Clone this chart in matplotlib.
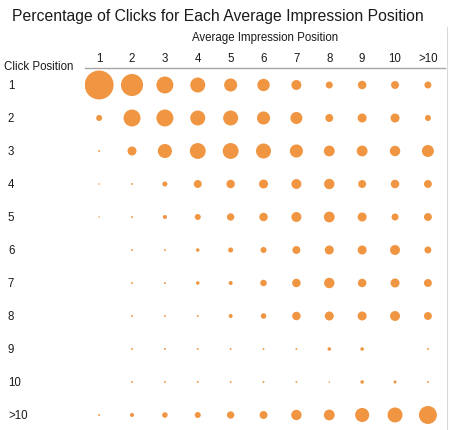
import matplotlib.pyplot as plt
import numpy as np
from matplotlib.lines import Line2D

plt.rcParams["font.family"] = ["Liberation Sans", "DejaVu Sans"]

impression_labels = ["1", "2", "3", "4", "5", "6", "7", "8", "9", "10", ">10"]
click_labels = ["1", "2", "3", "4", "5", "6", "7", "8", "9", "10", ">10"]

# percentage of clicks, rows = click position, cols = average impression position
pct_row1 = [93, 54, 32, 25, 19, 17, 11, 5.4, 8, 7, 5.4]
pct_row2 = [4, 32, 32, 25, 25, 19, 16, 7, 9, 9, 4]
pct_row3 = [0.4, 9, 22, 28, 28, 25, 19, 13, 13, 12, 16]
pct_row4 = [0.25, 0.4, 2.8, 7, 8, 9, 11, 12, 7, 8, 7]
pct_row5 = [0.25, 0.4, 1.8, 4, 6, 8, 11, 13, 9, 5.4, 7]
pct_row6 = [0, 0.4, 0.4, 1.4, 2.8, 4, 7, 9, 9, 11, 5.4]
pct_row7 = [0, 0.4, 0.4, 1.4, 1.8, 4.7, 8, 12, 8, 9, 7]
pct_row8 = [0, 0.4, 0.4, 0.4, 1.8, 3.4, 8, 9, 9, 11, 7]
pct_row9 = [0, 0.4, 0.4, 0.4, 0.4, 0.4, 0.4, 1.4, 1.4, 0, 0.4]
pct_row10 = [0, 0.4, 0.4, 0.4, 0.4, 0.4, 0.4, 0.25, 1.4, 1.0, 0.4]
pct_row11 = [0.4, 1.8, 3.4, 4, 6, 7, 12, 13, 22, 25, 36]

rows = [pct_row1, pct_row2, pct_row3, pct_row4, pct_row5, pct_row6,
        pct_row7, pct_row8, pct_row9, pct_row10, pct_row11]
values = np.array(rows, dtype=float)

xx, yy = np.meshgrid(np.arange(1, 12), np.arange(1, 12))

fig = plt.figure(figsize=(4.5, 4.3), dpi=100)
ax = fig.add_axes([85 / 450, 0, 360 / 450, 1 - 68 / 430])

mask = values > 0
ax.scatter(xx[mask], yy[mask], s=values[mask] * 4.67, color="#F09642",
           edgecolors="none")

ax.set_xlim(0.57, 11.52)
ax.set_ylim(11.455, 0.485)

ax.xaxis.tick_top()
ax.set_xticks(np.arange(1, 12))
ax.set_xticklabels(impression_labels, fontsize=8.3, color="#1a1a1a")
ax.set_yticks(np.arange(1, 12))
ax.set_yticklabels(click_labels, fontsize=8.3, color="#1a1a1a", ha="left")
ax.tick_params(axis="x", length=0, pad=2)
ax.tick_params(axis="y", length=0, pad=55.5)

for side in ["left", "right", "bottom"]:
    ax.spines[side].set_visible(False)
ax.spines["top"].set_color("#a6a6a6")
ax.spines["top"].set_linewidth(1.0)

fig.text(12 / 450, 1 - 16 / 430, "Percentage of Clicks for Each Average Impression Position",
         fontsize=11.3, color="#1a1a1a", va="center", ha="left")
fig.text(265 / 450, 1 - 38 / 430, "Average Impression Position",
         fontsize=8.3, color="#1a1a1a", va="center", ha="center")
fig.text(4 / 450, 1 - 67 / 430, "Click Position",
         fontsize=8.3, color="#1a1a1a", va="center", ha="left")

fig.add_artist(Line2D([447 / 450, 447 / 450], [0, 1 - 27 / 430],
                      transform=fig.transFigure, color="#d9d9d9", linewidth=0.8))

fig.savefig("out.png", dpi=100, facecolor="white")
